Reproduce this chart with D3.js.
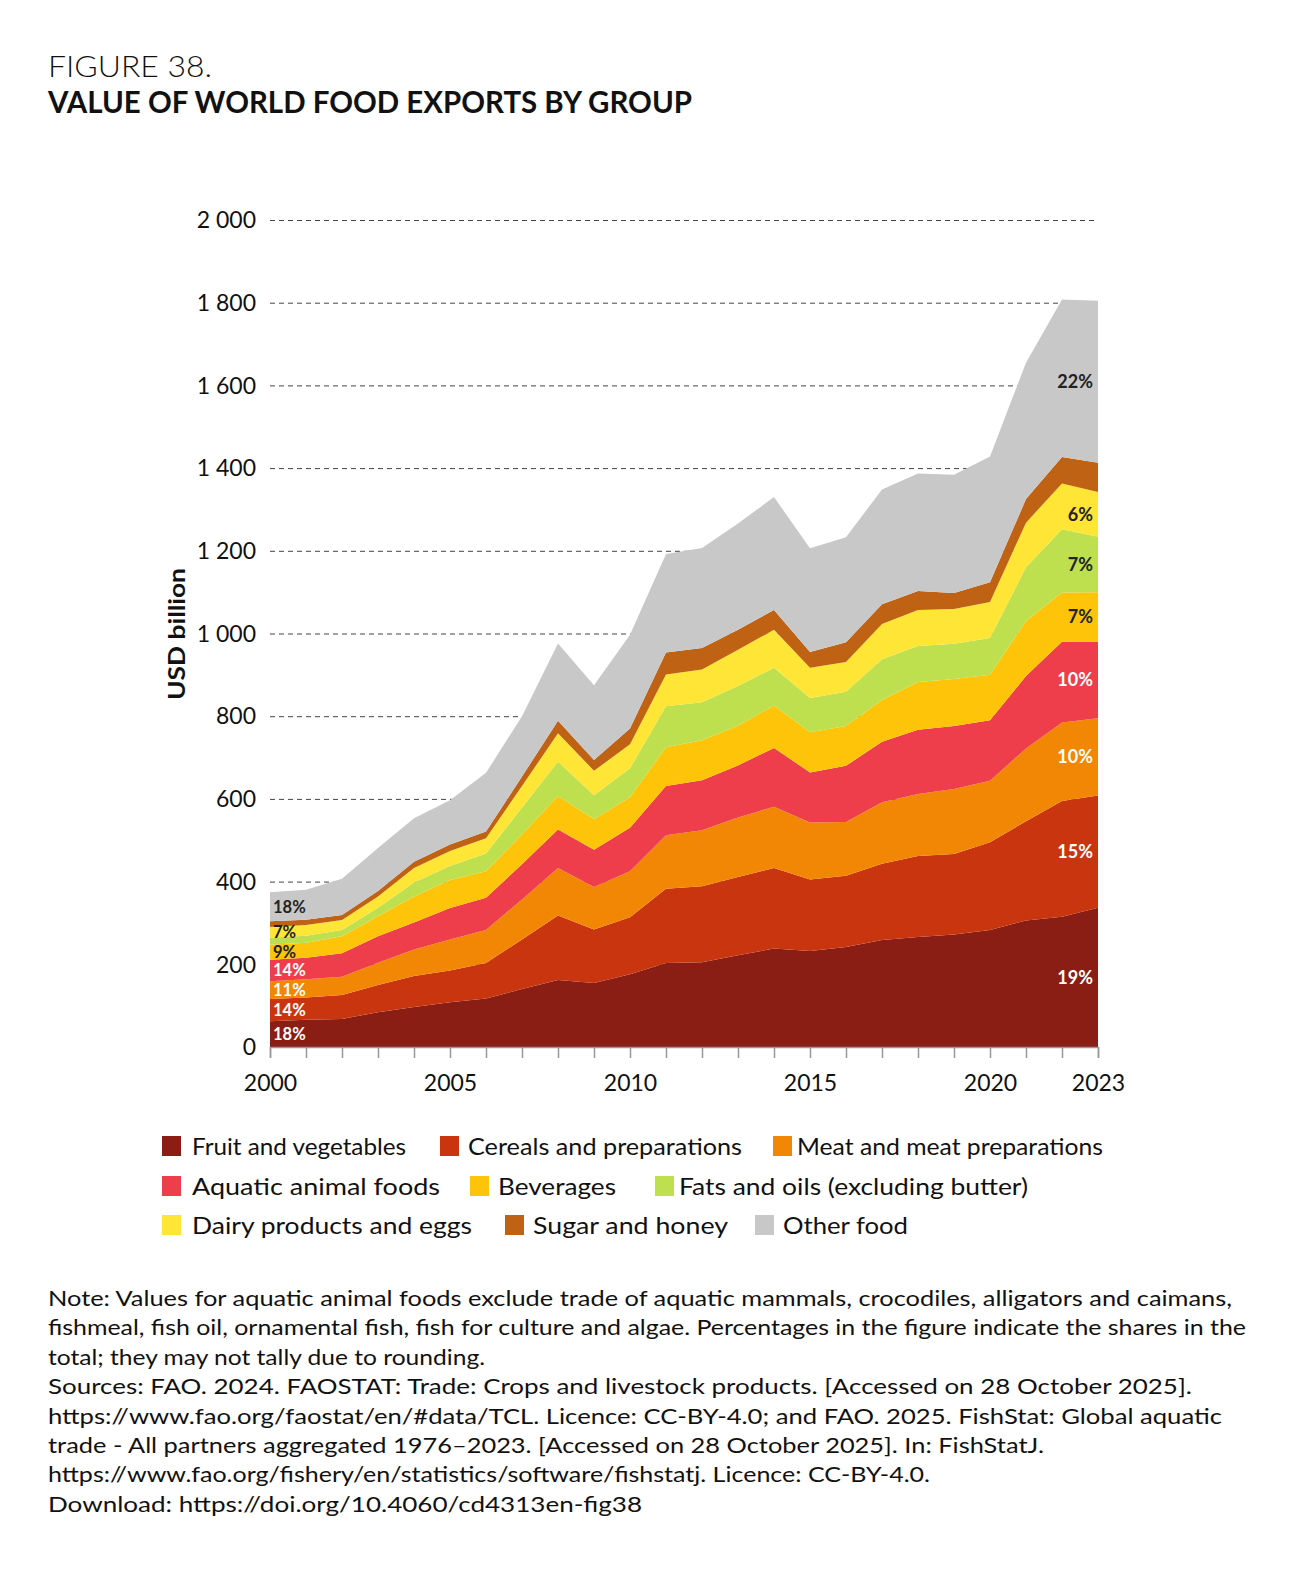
<!DOCTYPE html>
<html>
<head>
<meta charset="utf-8">
<script src="https://cdn.jsdelivr.net/npm/d3@7"></script>
<style>
  html, body { margin: 0; padding: 0; background: #fff; }
  svg { display: block; }
</style>
</head>
<body>
<svg id="chart" width="1300" height="1571"></svg>
<script>
// ---------- DATA ----------
const years = [2000,2001,2002,2003,2004,2005,2006,2007,2008,2009,2010,2011,2012,2013,2014,2015,2016,2017,2018,2019,2020,2021,2022,2023];
const fruitVeg  = [62,66,68,84,97,108,117,140,162,155,176,203,205,222,238,232,242,259,266,272,283,306,315,337];
const cereals   = [54,54,58,66,75,77,86,120,156,129,138,180,184,189,195,173,172,184,196,195,212,240,280,271];
const meat      = [43,44,44,54,64,75,80,97,115,103,111,129,135,144,148,138,130,149,150,157,149,176,190,187];
const aquatic   = [52,52,57,64,65,76,78,85,93,90,105,119,121,126,142,121,136,146,155,152,146,175,195,185];
const beverages = [36,36,41,48,63,68,64,72,81,74,74,94,97,96,103,97,96,101,116,114,110,133,119,120];
const fatsOils  = [17,17,15,21,34,34,43,65,83,58,70,99,92,96,91,83,83,99,87,85,89,130,153,134];
const dairy     = [26,26,24,27,35,36,37,52,69,59,58,77,79,88,92,73,72,85,87,84,87,108,111,108];
const sugar     = [14,13,12,13,15,16,16,23,30,26,38,53,52,48,48,38,48,48,46,39,48,57,64,71];
const otherFood = [70,72,88,104,105,107,142,146,187,181,227,238,242,257,273,251,254,277,284,286,304,330,381,392];

const seriesNames = ["Fruit and vegetables","Cereals and preparations","Meat and meat preparations",
  "Aquatic animal foods","Beverages","Fats and oils (excluding butter)",
  "Dairy products and eggs","Sugar and honey","Other food"];
const seriesValues = [fruitVeg, cereals, meat, aquatic, beverages, fatsOils, dairy, sugar, otherFood];
const seriesColors = ["#8a1d14","#c8350f","#f28705","#ee3e4b","#fdc40a","#bfe04e","#ffe535","#c06214","#c8c8c8"];
const leftPct  = ["18%","14%","11%","14%","9%",null,"7%",null,"18%"];
const rightPct = ["19%","15%","10%","10%","7%","7%","6%",null,"22%"];
const pctDark  = [false,false,false,false,true,true,true,true,true];

const yTicks = [0,200,400,600,800,1000,1200,1400,1600,1800,2000];
const xTickLabels = [2000,2005,2010,2015,2020,2023];

const noteLines = [
  "Note: Values for aquatic animal foods exclude trade of aquatic mammals, crocodiles, alligators and caimans,",
  "fishmeal, fish oil, ornamental fish, fish for culture and algae. Percentages in the figure indicate the shares in the",
  "total; they may not tally due to rounding.",
  "Sources: FAO. 2024. FAOSTAT: Trade: Crops and livestock products. [Accessed on 28 October 2025].",
  "https://www.fao.org/faostat/en/#data/TCL. Licence: CC-BY-4.0; and FAO. 2025. FishStat: Global aquatic",
  "trade - All partners aggregated 1976\u20132023. [Accessed on 28 October 2025]. In: FishStatJ.",
  "https://www.fao.org/fishery/en/statistics/software/fishstatj. Licence: CC-BY-4.0.",
  "Download: https://doi.org/10.4060/cd4313en-fig38"
];
const noteWidths = [1184,1198,437,1144,1174,996,882,594];

// ---------- LAYOUT ----------
const svg = d3.select("#chart");
const FONT = "Lato, 'Open Sans', 'DejaVu Sans', sans-serif";
const plot = {left: 270, right: 1098, top: 220, bottom: 1047};

const x = d3.scaleLinear().domain([years[0], years[years.length-1]]).range([plot.left, plot.right]);
const y = d3.scaleLinear().domain([0, 2000]).range([plot.bottom, plot.top]);

// Title
svg.append("text").attr("x", 48).attr("y", 77)
  .attr("font-family", FONT).attr("font-size", 30).attr("font-weight", 300).attr("fill", "#111")
  .attr("textLength", 164).attr("lengthAdjust", "spacingAndGlyphs").text("FIGURE 38.");
svg.append("text").attr("x", 48).attr("y", 113)
  .attr("font-family", FONT).attr("font-size", 30).attr("font-weight", 700).attr("fill", "#111")
  .attr("textLength", 644).attr("lengthAdjust", "spacingAndGlyphs").text("VALUE OF WORLD FOOD EXPORTS BY GROUP");

// Gridlines
const grid = svg.append("g").attr("transform", `translate(${plot.left},0)`)
  .call(d3.axisLeft(y).tickValues(yTicks).tickSize(-(plot.right - plot.left)).tickFormat(""));
grid.select(".domain").remove();
grid.selectAll(".tick line").attr("stroke", "#444").attr("stroke-width", 1).attr("stroke-dasharray", "5,4")
  .filter(d => d === 0).remove();

// Y tick labels
const fmt = d => d3.format(",")(d).replace(",", " ");
svg.append("g").selectAll("text").data(yTicks).join("text")
  .attr("x", 256).attr("y", d => y(d)).attr("dy", "0.36em")
  .attr("text-anchor", "end").attr("font-family", FONT).attr("font-size", 23).attr("fill", "#111")
  .text(fmt);

// Y axis title
svg.append("text").attr("transform", "translate(185,634) rotate(-90)")
  .attr("text-anchor", "middle").attr("font-family", FONT).attr("font-size", 23).attr("font-weight", 700)
  .attr("fill", "#111").attr("textLength", 132).attr("lengthAdjust", "spacingAndGlyphs").text("USD billion");

// Stack
const table = years.map((yr, i) => {
  const row = {year: yr};
  seriesNames.forEach((n, k) => row[n] = seriesValues[k][i]);
  return row;
});
const stacked = d3.stack().keys(seriesNames)(table);
const area = d3.area().x(d => x(d.data.year)).y0(d => y(d[0])).y1(d => y(d[1]));

svg.append("g").selectAll("path").data(stacked).join("path")
  .attr("d", area).attr("fill", (d, i) => seriesColors[i]);

// X axis
const xAxis = svg.append("g").attr("transform", `translate(0,${plot.bottom})`)
  .call(d3.axisBottom(x).tickValues(years).tickSize(11).tickFormat(d => xTickLabels.includes(d) ? d : ""));
xAxis.select(".domain").attr("stroke", "#999").attr("stroke-width", 1.5);
xAxis.selectAll(".tick line").attr("stroke", "#999").attr("stroke-width", 1.5);
xAxis.selectAll(".tick text").attr("font-family", FONT).attr("font-size", 23).attr("fill", "#111").attr("dy", "1.3em");

// Percent labels
const first = 0, last = years.length - 1;
stacked.forEach((layer, i) => {
  if (leftPct[i]) {
    const p = layer[first];
    svg.append("text").attr("x", plot.left + 3).attr("y", y((p[0] + p[1]) / 2)).attr("dy", "0.36em")
      .attr("font-family", FONT).attr("font-size", 16.5).attr("font-weight", 700)
      .attr("fill", pctDark[i] ? "#222" : "#fff").text(leftPct[i]);
  }
  if (rightPct[i]) {
    const p = layer[last];
    svg.append("text").attr("x", plot.right - 5).attr("y", y((p[0] + p[1]) / 2)).attr("dy", "0.36em")
      .attr("text-anchor", "end").attr("font-family", FONT).attr("font-size", 18).attr("font-weight", 700)
      .attr("fill", pctDark[i] ? "#222" : "#fff").text(rightPct[i]);
  }
});

// Legend
const legendPos = [
  {sx:162, tx:192, y:1146, w:214}, {sx:440, tx:468, y:1146, w:274}, {sx:773, tx:797, y:1146, w:306},
  {sx:162, tx:192, y:1186, w:248}, {sx:470, tx:498, y:1186, w:118}, {sx:655, tx:679, y:1186, w:349},
  {sx:162, tx:192, y:1225, w:280}, {sx:505, tx:533, y:1225, w:195}, {sx:755, tx:783, y:1225, w:125}
];
const lg = svg.append("g").selectAll("g").data(seriesNames).join("g");
lg.append("rect").attr("x", (d, i) => legendPos[i].sx).attr("y", (d, i) => legendPos[i].y - 10)
  .attr("width", 19).attr("height", 20).attr("fill", (d, i) => seriesColors[i]);
lg.append("text").attr("x", (d, i) => legendPos[i].tx).attr("y", (d, i) => legendPos[i].y).attr("dy", "0.36em")
  .attr("font-family", FONT).attr("font-size", 24).attr("fill", "#111")
  .attr("textLength", (d, i) => legendPos[i].w).attr("lengthAdjust", "spacingAndGlyphs").text(d => d);

// Notes
svg.append("g").selectAll("text").data(noteLines).join("text")
  .attr("x", 48).attr("y", (d, i) => 1306 + i * 29.4)
  .attr("font-family", FONT).attr("font-size", 21).attr("fill", "#111")
  .attr("textLength", (d, i) => noteWidths[i]).attr("lengthAdjust", "spacingAndGlyphs").text(d => d);
</script>
</body>
</html>
